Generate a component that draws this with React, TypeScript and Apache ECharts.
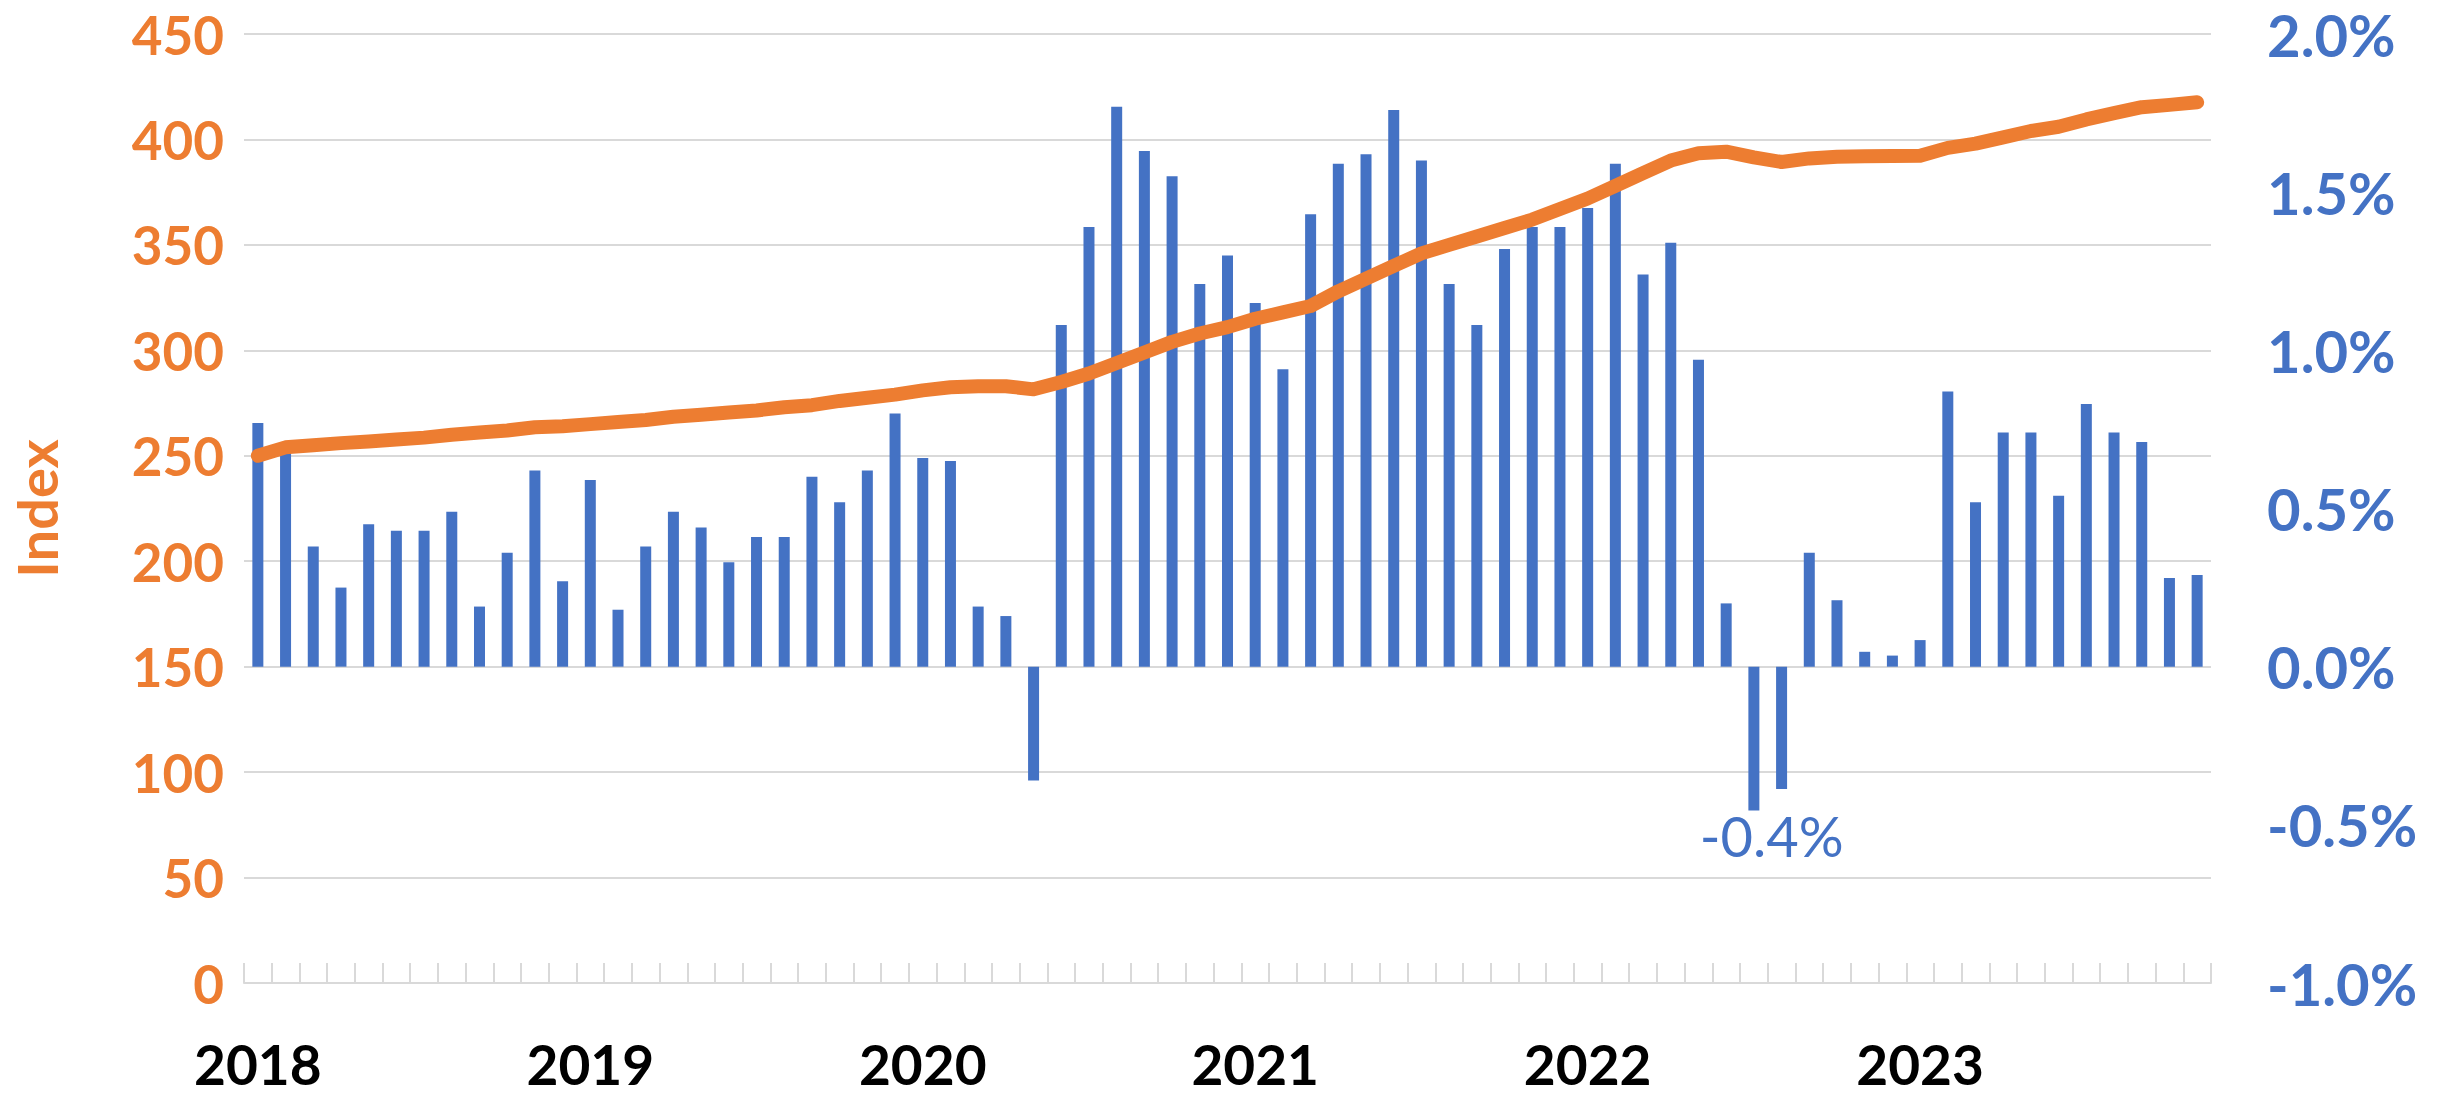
import React, { useEffect, useRef } from "react";
import * as echarts from "echarts";

const categories = [
  "2018-01","2018-02","2018-03","2018-04","2018-05","2018-06","2018-07","2018-08","2018-09","2018-10","2018-11","2018-12",
  "2019-01","2019-02","2019-03","2019-04","2019-05","2019-06","2019-07","2019-08","2019-09","2019-10","2019-11","2019-12",
  "2020-01","2020-02","2020-03","2020-04","2020-05","2020-06","2020-07","2020-08","2020-09","2020-10","2020-11","2020-12",
  "2021-01","2021-02","2021-03","2021-04","2021-05","2021-06","2021-07","2021-08","2021-09","2021-10","2021-11","2021-12",
  "2022-01","2022-02","2022-03","2022-04","2022-05","2022-06","2022-07","2022-08","2022-09","2022-10","2022-11","2022-12",
  "2023-01","2023-02","2023-03","2023-04","2023-05","2023-06","2023-07","2023-08","2023-09","2023-10","2023-11",
];

// Monthly change, percent (right axis)
const monthlyChange = [
  0.77, 0.70, 0.38, 0.25, 0.45, 0.43, 0.43, 0.49, 0.19, 0.36, 0.62, 0.27,
  0.59, 0.18, 0.38, 0.49, 0.44, 0.33, 0.41, 0.41, 0.60, 0.52, 0.62, 0.80,
  0.66, 0.65, 0.19, 0.16, -0.36, 1.08, 1.39, 1.77, 1.63, 1.55, 1.21, 1.30,
  1.15, 0.94, 1.43, 1.59, 1.62, 1.76, 1.60, 1.21, 1.08, 1.32, 1.39, 1.39,
  1.45, 1.59, 1.24, 1.34, 0.97, 0.20, -0.455, -0.387, 0.36, 0.21, 0.047, 0.035,
  0.084, 0.87, 0.52, 0.74, 0.74, 0.54, 0.83, 0.74, 0.71, 0.28, 0.29,
];

// Index level (left axis)
const indexLevel = [
  250, 254, 255, 256, 256.8, 257.7, 258.6, 260, 261, 262, 263.5, 264,
  265, 266, 267, 268.5, 269.5, 270.5, 271.5, 273, 274, 276, 277.5, 279,
  281, 282.5, 283, 283, 281.5, 285, 289, 294, 299, 304, 308, 311,
  315, 318, 321, 328, 334, 340, 346, 350, 354, 358, 362, 367,
  372, 378, 384, 390, 393.5, 394.2, 391.5, 389.3, 391, 391.8, 392, 392.1,
  392.3, 396, 398, 401, 404, 406, 409.5, 412.5, 415.3, 416.4, 417.6,
];

const labelledIndex = 55;

const ORANGE = "#ED7D31";
const BLUE = "#4472C4";
const GRID = "#D9D9D9";
const FONT = "Lato";

export default function App() {
  const ref = useRef<HTMLDivElement>(null);

  useEffect(() => {
    if (!ref.current) return;
    const chart = echarts.init(ref.current, undefined, { renderer: "svg" });
    chart.setOption({
      animation: false,
      backgroundColor: "#ffffff",
      grid: { left: 241, right: 227, top: 34, bottom: 117, containLabel: false },
      xAxis: {
        type: "category",
        data: categories,
        axisLine: { show: true, lineStyle: { color: GRID, width: 2 } },
        axisTick: { show: true, inside: true, length: 20, interval: 0, lineStyle: { color: GRID, width: 2 } },
        axisLabel: {
          interval: (i: number) => i % 12 === 0,
          formatter: (v: string) => v.slice(0, 4),
          color: "#000000",
          fontFamily: FONT,
          fontWeight: "bold",
          fontSize: 55,
          lineHeight: 50,
          margin: 56,
        },
        splitLine: { show: false },
      },
      yAxis: [
        {
          type: "value",
          min: 0,
          max: 450,
          interval: 50,
          position: "left",
          name: "Index",
          nameLocation: "middle",
          nameRotate: 90,
          nameGap: 180,
          nameTextStyle: { color: ORANGE, fontFamily: FONT, fontWeight: "bold", fontSize: 56 },
          axisLine: { show: false },
          axisTick: { show: false },
          axisLabel: { color: ORANGE, fontFamily: FONT, fontWeight: "bold", fontSize: 53, margin: 20 },
          splitLine: { show: true, lineStyle: { color: GRID, width: 2 } },
        },
        {
          type: "value",
          min: -1,
          max: 2,
          interval: 0.5,
          position: "right",
          axisLine: { show: false },
          axisTick: { show: false },
          axisLabel: {
            color: BLUE,
            fontFamily: FONT,
            fontWeight: "bold",
            fontSize: 58,
            margin: 56,
            formatter: (v: number) => v.toFixed(1) + "%",
          },
          splitLine: { show: false },
        },
      ],
      series: [
        {
          type: "bar",
          name: "Monthly change",
          yAxisIndex: 1,
          data: monthlyChange,
          barWidth: 11,
          itemStyle: { color: BLUE },
          markPoint: {
            symbol: "circle",
            symbolSize: 0,
            data: [
              {
                coord: [labelledIndex, monthlyChange[labelledIndex]],
                value: monthlyChange[labelledIndex],
              },
            ],
            label: {
              show: true,
              position: "inside",
              offset: [-10, 46],
              formatter: (p: any) => Number(p.value).toFixed(1) + "%",
              color: BLUE,
              fontFamily: FONT,
              fontSize: 56,
              fontWeight: "normal",
            },
          },
        },
        {
          type: "line",
          name: "Index",
          yAxisIndex: 0,
          data: indexLevel,
          symbol: "none",
          smooth: false,
          lineStyle: { color: ORANGE, width: 14, cap: "round", join: "round" },
          z: 5,
        },
      ],
    });
    return () => chart.dispose();
  }, []);

  return (
    <div
      ref={ref}
      style={{ position: "absolute", left: 0, top: 0, width: 2438, height: 1100, background: "#fff" }}
    />
  );
}
